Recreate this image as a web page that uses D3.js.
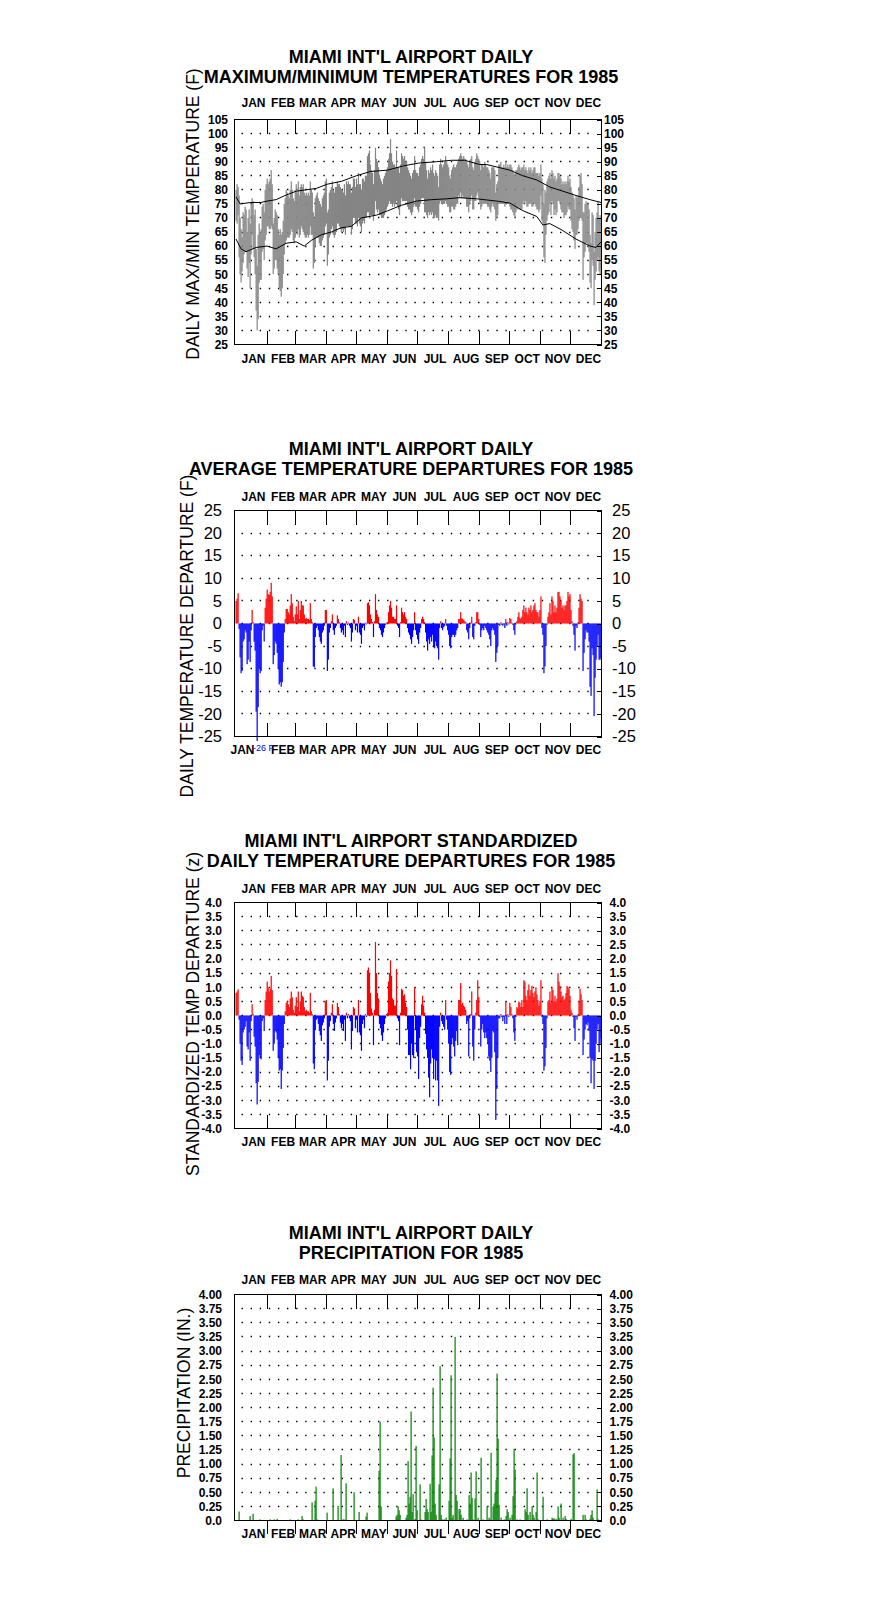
<!DOCTYPE html>
<html><head><meta charset="utf-8">
<script src="https://cdn.jsdelivr.net/npm/d3@7"></script>
<style>body{margin:0;background:#fff;}</style>
</head><body>
<svg id="chart" width="876" height="1606" style="background:#fff"></svg>
<script>
// ---------------- DATA ----------------
const months = ["JAN","FEB","MAR","APR","MAY","JUN","JUL","AUG","SEP","OCT","NOV","DEC"];
const monthStarts = [0,31,59,90,120,151,181,212,243,273,304,334];
const monthLengths = [31,28,31,30,31,30,31,31,30,31,30,31];

const tempTicks = [105,100,95,90,85,80,75,70,65,60,55,50,45,40,35,30,25];
const depTicks = [25,20,15,10,5,0,-5,-10,-15,-20,-25];
const stdTicks = [4,3.5,3,2.5,2,1.5,1,0.5,0,-0.5,-1,-1.5,-2,-2.5,-3,-3.5,-4];
const precipTicks = [4,3.75,3.5,3.25,3,2.75,2.5,2.25,2,1.75,1.5,1.25,1,0.75,0.5,0.25,0];

// daily maximum temperature (F), Jan 1 .. Dec 31
const tmax = [
80,82,81,78,70,66,63,72,71,74,73,65,70,73,68,75,77,76,71,73,59,53,64,68,65,66,74,75,72,80,82,
84,82,83,84,87,82,68,70,73,72,71,66,64,66,64,65,69,75,77,80,79,78,77,80,83,80,77,76,
80,82,79,83,78,81,82,81,82,79,78,79,78,79,78,83,80,79,72,70,77,78,79,77,76,75,74,77,78,79,83,
84,72,73,79,80,81,83,80,79,81,81,83,82,82,81,80,80,79,82,78,83,82,83,82,82,79,81,84,84,81,
84,82,86,82,82,80,84,84,83,85,85,92,93,94,89,87,86,82,87,95,91,90,88,85,84,83,82,84,85,86,87,
88,91,93,98,93,90,89,89,88,94,88,88,86,89,93,92,91,92,90,90,88,87,86,85,84,86,87,92,87,86,
86,85,88,89,91,92,91,95,90,87,84,87,86,88,87,89,86,85,87,86,85,81,89,91,89,88,89,90,92,90,89,
88,85,84,87,88,89,88,88,89,90,91,92,93,92,91,92,91,91,90,89,88,90,91,92,88,87,90,91,93,92,91,
90,87,89,89,88,90,89,88,88,87,86,84,88,88,88,87,79,82,83,89,89,90,88,88,89,88,90,88,89,88,
89,89,88,87,86,85,87,87,88,89,88,87,88,88,89,87,88,87,86,88,87,88,86,87,88,88,86,86,86,85,86,
89,84,82,75,80,79,83,84,85,86,84,87,86,84,85,83,84,86,86,85,84,82,83,82,83,82,83,85,83,84,
81,79,78,77,73,78,77,78,81,85,86,82,72,72,75,76,75,75,73,64,61,72,71,58,65,70,72,76,70,71,70];

// daily minimum temperature (F)
const tmin = [
69,68,71,56,50,47,51,54,57,58,58,52,49,54,45,57,64,59,56,50,37,30,34,47,48,48,58,59,55,62,64,
67,67,66,66,67,66,50,52,55,55,52,50,45,44,42,45,50,57,61,62,63,63,63,64,66,65,62,61,
63,65,64,66,63,64,67,66,65,64,63,63,64,63,64,67,64,64,52,54,60,63,63,63,61,60,60,62,63,64,67,
68,53,57,63,64,66,67,64,63,64,65,68,68,67,66,65,66,65,66,64,67,67,67,67,67,64,66,70,70,68,
68,67,70,68,67,65,68,69,68,70,70,72,72,70,71,71,71,69,71,76,73,72,73,71,71,70,70,70,71,72,73,
74,75,76,75,75,74,75,74,75,76,74,73,71,74,77,76,76,76,76,76,74,73,73,72,71,72,74,77,74,74,
73,72,74,75,77,77,77,72,72,71,70,72,71,72,71,72,70,70,71,70,70,69,75,76,75,75,75,75,76,75,74,
74,72,72,74,74,73,73,74,75,75,78,77,79,77,78,77,77,77,74,74,72,75,76,78,73,73,76,76,78,79,77,
75,73,74,75,75,75,75,75,74,74,73,72,74,75,74,73,69,70,71,75,75,75,75,75,75,74,76,75,75,75,
74,73,73,72,71,70,72,73,73,74,73,73,73,75,76,75,76,74,74,75,75,75,74,74,75,75,74,73,73,72,73,
78,69,68,56,54,64,69,71,72,75,71,76,75,71,73,71,72,76,76,75,73,72,72,70,71,71,72,74,73,73,
69,66,65,62,59,64,64,66,69,70,70,69,48,56,58,61,61,60,58,47,45,55,53,39,48,51,55,56,51,50,52];

// normal max / min read at sample days
const normMaxDays = [0,4,15,25,31,40,49,60,70,80,91,105,120,134,151,167,182,200,215,228,243,250,273,286,300,313,326,339,353,364];
const normMax     = [77.5,75,75.5,75.5,76,76.5,78,79.5,80,80.5,82,83,85,86.5,87,88.5,89.5,90,90.5,90.5,89,89,87,85,83.5,81,79.5,78,76.5,75.5];
const normMinDays = [0,5,10,20,31,40,50,60,68,75,85,95,105,115,125,140,151,165,180,195,210,223,240,260,273,286,300,306,313,326,339,353,359,364];
const normMin     = [62.5,59,58,59.5,60,59,61,61.5,60,62,64,65,66.5,67,70,71,72.5,74.5,76,76.5,76.8,77.2,76.8,76,75.3,72.6,70.5,67.5,68,65.5,62.5,60,59.5,61.5];

// daily average temperature departure (F)
const departure = [
5,5.5,6.7,-1.2,-7.5,-11,-10.5,-4,-3.5,-1.5,-2,-9,-8,-4,-8.5,-1.5,3,0.3,-4,-6,-19.5,-26,-18.5,-10,-11,-10.5,-1.5,-0.5,-4,3.5,5.5,
7.5,6.5,6.3,7,9,6,-9,-7,-4,-4.5,-6.5,-10,-13.5,-13,-14,-13,-8.5,-2,1,3.2,3.2,2.5,2,4,6.5,4.5,1.5,0.5,
2,3.8,2,5,1,3,5,4,4,2,1,1.2,1,1,0.8,4.5,1,0.3,-9.5,-9.7,-3,-1,-0.5,-1.5,-3,-4,-4.5,-2,-1.5,-0.5,3,
3,-10.5,-8,-2,-1,0.5,2,-1.5,-2.5,-1,-0.5,1.8,1,0.3,-1,-2,-1.5,-2.5,-0.5,-3,0.5,-0.3,0.2,-0.5,-1,-4,-2,1,0.8,-1.5,
-0.5,-2,1.5,-2,-2.5,-4.5,-1,-0.5,-1.5,0.2,-0.2,4.5,4.7,4,2,1,0.3,-3,0.5,6.5,3,2,1.5,-1,-1.5,-2.5,-3,-2,-1,-0.3,0.2,
0.3,2.5,4,5,3.5,1.5,1.5,1,1,4,-0.5,-1,-3,0.3,3.5,2.5,2,2.5,1.5,1,-1,-2,-2.5,-3.5,-4.5,-3,-1.5,2.5,-1.5,-2.5,
-3.5,-4.5,-2,-1,1,1.5,1,0.3,-2,-4,-6,-3.5,-4.5,-3,-4,-2.5,-5,-5.5,-4,-5,-5.5,-8,-1,0.5,-1,-1.5,-0.8,-0.5,1,-0.5,-1.5,
-2.5,-5,-5.5,-3,-2.5,-2.5,-3,-2.5,-1.5,-1,1,1,2.5,1.2,1,0.8,0.5,0.3,-1.5,-2,-3.5,-1,0.2,1.5,-3,-3.5,-0.5,0.3,2.5,2.5,1,
-0.3,-3,-1.5,-1,-1.5,-0.5,-1,-1.5,-2,-2.5,-3.5,-5,-1.5,-1,-1.5,-2.5,-8.5,-6.5,-5,-0.3,-0.5,0.3,-0.3,-0.5,-0.2,-1,1,-0.5,0.3,-0.2,
1.2,1,0.2,-0.3,-1.5,-2.5,-0.2,0.5,1.5,2.5,1.3,1,1.5,3,4,2.5,3.5,2.5,2,3.5,3,4,2.5,3,4,4.5,3,2.5,2.5,1.5,3,
6,-1,-2.5,-11,-9.5,-5,-0.3,1.5,2.5,4.5,2,6,5,2.5,4,2.5,3.5,7,7,6,5,3.5,4,3,4,4,5,7,6,6.5,
3,0.5,-0.5,-2.5,-6,-0.5,-1,0.3,3.5,6.5,5.5,5,-10.5,-6.5,-3.5,-1.5,-2,-2,-4,-14,-16,-5.5,-7,-20.5,-12,-8,-5,-2.5,-8,-8,-7.5];

// standardized daily temperature departure (z)
const stdDeparture = [
0.8,0.85,0.93,-0.15,-1.0,-1.6,-1.75,-0.6,-0.5,-0.4,-0.2,-1.1,-1.2,-0.6,-1.6,-0.2,0.4,0.05,-0.75,-1.1,-2.4,-3.15,-2.35,-1.4,-1.5,-1.55,-0.2,-0.1,-0.55,0.55,0.85,
1.2,1.0,0.85,0.95,1.4,0.9,-1.25,-1.0,-0.55,-0.6,-0.85,-1.5,-1.95,-1.9,-2.6,-1.95,-1.15,-0.3,0.15,0.45,0.5,0.4,0.3,0.6,0.85,0.65,0.2,0.1,
0.35,0.65,0.3,0.85,0.15,0.5,0.85,0.7,0.65,0.3,0.15,0.2,0.15,0.15,0.1,0.8,0.15,0.05,-1.7,-1.9,-0.5,-0.15,-0.1,-0.3,-0.55,-0.7,-0.9,-0.35,-0.25,-0.1,0.5,
0.55,-2.3,-1.6,-0.4,-0.2,0.1,0.4,-0.3,-0.55,-0.25,-0.1,0.45,0.3,0.05,-0.25,-0.45,-0.3,-0.55,-0.15,-0.9,0.1,-0.1,0.05,-0.1,-0.2,-1.2,-0.55,0.3,0.25,-0.45,
-0.15,-0.6,0.55,-0.6,-0.7,-1.25,-0.3,-0.15,-0.45,0.05,-0.05,1.6,1.7,1.5,0.8,0.25,0.1,-1.05,0.2,2.6,1.5,0.8,0.6,-0.3,-0.45,-0.7,-0.9,-0.6,-0.3,-0.1,0.05,
0.1,1.2,1.5,1.95,1.4,0.6,0.55,0.35,0.35,1.65,-0.1,-0.2,-1.05,0.1,0.95,0.9,0.7,0.75,0.45,0.3,-0.5,-1.4,-1.4,-1.9,-1.0,-1.4,-1.5,1.0,-0.5,-1.3,
-1.45,-2.25,-0.8,-0.4,0.4,0.7,0.35,0.1,-0.65,-1.2,-1.5,-2.2,-2.9,-1.7,-1.2,-1.5,-2.25,-1.55,-2.3,-1.6,-2.3,-3.2,-0.4,0.1,-0.2,-0.3,-0.4,-0.5,0.55,-0.15,-0.5,
-1.0,-2.0,-2.1,-1.0,-0.8,-1.1,-1.45,-0.9,-0.55,-1.05,0.55,0.55,1.15,0.4,0.45,0.35,0.3,0.2,-0.3,-0.2,-1.45,-0.1,0.05,0.85,-1.1,-1.6,-0.5,0.1,0.55,1.25,0.65,
-0.05,-1.1,-0.5,-0.3,-0.6,-0.8,-0.6,-0.8,-1.0,-1.45,-1.6,-2.0,-1.5,-0.55,-0.6,-1.3,-3.7,-2.6,-1.5,-0.1,-0.1,0.05,-0.05,-0.2,-0.05,-0.3,0.5,-0.3,0.05,-0.05,
0.45,0.3,0.05,-0.1,-0.6,-0.9,-0.05,0.3,0.25,0.5,0.45,0.3,0.55,0.3,1.25,1.2,0.7,0.55,0.9,1.1,0.7,0.9,1.05,0.8,0.65,0.85,1.0,0.75,0.55,0.35,0.5,
1.25,-0.05,-0.3,-1.95,-1.8,-1.15,-0.1,0.5,0.55,0.85,0.45,1.0,0.9,0.5,0.7,0.5,0.6,1.5,1.2,1.05,0.85,0.65,0.7,0.55,0.6,0.8,1.05,1.0,0.95,0.7,
0.2,0.1,-0.05,-0.45,-0.9,-0.05,-0.15,0.05,0.5,0.95,0.75,0.55,-1.4,-0.85,-0.5,-0.3,-0.35,-0.25,-0.55,-1.5,-2.4,-1.55,-1.6,-2.6,-1.6,-1.0,-0.5,-0.3,-1.3,-1.0,-0.8];

// daily precipitation (in.), days with measurable rain
const precipDays = [3,14,17,24,34,38,41,48,54,62,66,67,76,79,80,81,91,97,102,105,107,108,110,118,123,130,131,143,144,145,
160,161,162,163,164,170,171,172,173,174,175,176,177,179,180,181,183,184,188,189,190,191,193,194,195,196,197,198,199,
202,203,204,205,207,209,212,213,214,215,216,218,219,220,222,223,224,226,230,232,233,234,235,236,238,239,241,244,246,
250,252,253,254,256,257,258,259,260,261,262,264,267,269,270,271,273,275,276,277,278,280,283,288,289,290,291,293,295,
296,297,299,300,301,306,310,315,316,317,319,321,322,324,326,328,329,334,336,337,346,348,349,353,354,355,356,360,361];
const precipAmounts = [0.16,0.08,0.12,0.02,0.02,0.02,0.03,0.01,0.02,0.02,0.08,0.02,0.32,0.35,0.6,0.02,0.14,0.57,0.26,1.16,0.02,0.02,0.66,0.5,0.15,0.07,0.14,0.88,1.75,0.25,
0.07,0.1,0.25,0.18,0.1,0.05,0.1,1.05,0.3,0.42,1.93,0.15,0.47,0.03,1.32,0.18,0.64,0.02,0.15,0.38,0.2,0.15,0.65,0.15,1.15,2.35,1.47,0.3,0.1,
0.64,2.73,0.1,0.02,0.02,0.05,0.35,1.1,2.57,0.05,0.1,3.25,0.45,0.35,0.2,0.2,0.1,0.05,0.02,0.45,0.3,0.85,0.4,0.02,0.39,0.87,0.05,1.11,0.02,
0.25,0.05,0.02,1.2,0.25,0.3,0.5,0.72,2.6,1.45,0.28,0.05,0.02,0.08,0.2,0.15,0.05,0.1,0.43,1.27,0.9,0.02,0.02,0.2,0.15,0.57,0.1,0.15,0.25,
0.1,0.05,0.15,0.85,0.02,0.42,0.02,0.05,0.03,0.04,0.03,0.25,0.05,0.3,0.05,0.08,0.03,0.03,1.17,1.19,0.1,0.1,0.02,0.03,0.1,0.18,0.05,0.55,0.02];

// ---------------- DRAWING ----------------
const FONT = "'Liberation Sans', Arial, Helvetica, sans-serif";
const svg = d3.select("#chart");
const X0 = 234.5, X1 = 601.5;
const x = d3.scaleLinear().domain([0, 365]).range([235.5, 601.5]);
const days = d3.range(365);

function panel(cfg) {
  const g = svg.append("g");
  const y = d3.scaleLinear().domain(cfg.domain).range([cfg.bottom, cfg.top]);

  cfg.title.forEach((t, i) => g.append("text")
    .attr("x", 411).attr("y", cfg.titleY[i]).attr("text-anchor", "middle")
    .style("font", `bold 18px ${FONT}`).text(t));

  g.append("text")
    .attr("transform", `translate(${cfg.ylabX},${cfg.ylabY}) rotate(-90)`)
    .attr("text-anchor", "middle").style("font", `17.5px ${FONT}`).text(cfg.ylabel);

  const mlab = (yy, i, dx) => g.append("text")
    .attr("x", x(monthStarts[i] + monthLengths[i] / 2) + 2.5 + (dx || 0)).attr("y", yy)
    .attr("text-anchor", "middle").style("font", `bold 12px ${FONT}`).text(months[i]);
  months.forEach((m, i) => mlab(cfg.monthTopY, i));
  months.forEach((m, i) => mlab(cfg.monthBotY, i, (i === 0 ? cfg.janShift || 0 : 0)));

  // dotted grid rows
  const inner = cfg.ticks.filter(v => v !== cfg.domain[0] && v !== cfg.domain[1]);
  g.append("g").selectAll("line").data(inner).join("line")
    .attr("x1", X0 + 7).attr("x2", X1 - 5)
    .attr("y1", d => Math.round(y(d) - 0.5) + 0.5).attr("y2", d => Math.round(y(d) - 0.5) + 0.5)
    .attr("stroke", "#000").attr("stroke-width", 1.3).attr("stroke-dasharray", "1.4 7.7");

  cfg.marks(g, y);

  // frame
  g.append("rect").attr("x", X0).attr("y", cfg.top).attr("width", X1 - X0).attr("height", cfg.bottom - cfg.top)
    .attr("fill", "none").attr("stroke", "#000").attr("stroke-width", 1);

  // month boundary ticks
  const bounds = monthStarts.slice(1);
  const top = g.append("g").attr("transform", `translate(0,${cfg.top})`)
    .call(d3.axisTop(x).tickValues(bounds).tickFormat("").tickSize(-14));
  top.select(".domain").remove();
  const bot = g.append("g").attr("transform", `translate(0,${cfg.bottom})`)
    .call(d3.axisBottom(x).tickValues(bounds).tickFormat("").tickSize(cfg.botTick));
  bot.select(".domain").remove();
  g.selectAll(".tick line").attr("stroke", "#000").attr("shape-rendering", "crispEdges");

  // y axes
  const la = g.append("g").attr("transform", `translate(${X0},0)`)
    .call(d3.axisLeft(y).tickValues(cfg.ticks).tickFormat(cfg.fmt).tickSize(0).tickPadding(cfg.padL));
  la.select(".domain").remove();
  const ra = g.append("g").attr("transform", `translate(${X1},0)`)
    .call(d3.axisRight(y).tickValues(cfg.ticks).tickFormat(cfg.fmt).tickSize(-5).tickPadding(cfg.padR));
  ra.select(".domain").remove();
  ra.selectAll("line").attr("stroke", "#000").attr("shape-rendering", "crispEdges");
  [la, ra].forEach(a => a.selectAll("text").attr("fill", "#000")
    .style("font", `${cfg.tickWeight} ${cfg.tickSize}px ${FONT}`));
  return { g, y };
}

// Panel 1: max/min
panel({
  title: ["MIAMI INT'L AIRPORT DAILY", "MAXIMUM/MINIMUM TEMPERATURES FOR 1985"],
  titleY: [63, 83], ylabel: "DAILY MAX/MIN TEMPERATURE (F)", ylabX: 199, ylabY: 214,
  monthTopY: 106.5, monthBotY: 362.5, top: 119.5, bottom: 344.5, domain: [25, 105],
  ticks: tempTicks, fmt: d => String(d), padL: 6.5, padR: 2.5, tickSize: 12, tickWeight: "bold", botTick: -14,
  marks: (g, y) => {
    g.append("g").selectAll("rect").data(days).join("rect")
      .attr("x", d => x(d)).attr("width", d => x(d + 1) - x(d) + 0.2)
      .attr("y", d => y(tmax[d])).attr("height", d => y(tmin[d]) - y(tmax[d]))
      .attr("fill", "#858585");
    const line = d3.line().x(d => x(d[0] + 0.5)).y(d => y(d[1]));
    g.append("path").attr("d", line(normMaxDays.map((d, i) => [d, normMax[i]])))
      .attr("fill", "none").attr("stroke", "#000").attr("stroke-width", 1);
    g.append("path").attr("d", line(normMinDays.map((d, i) => [d, normMin[i]])))
      .attr("fill", "none").attr("stroke", "#000").attr("stroke-width", 1);
  }
});

// Panel 2: departures
const p2 = panel({
  title: ["MIAMI INT'L AIRPORT DAILY", "AVERAGE TEMPERATURE DEPARTURES FOR 1985"],
  titleY: [455, 475], ylabel: "DAILY TEMPERATURE DEPARTURE (F)", ylabX: 193, ylabY: 636,
  monthTopY: 500.5, monthBotY: 753.5, janShift: -11, top: 510.5, bottom: 736.5, domain: [-25, 25],
  ticks: depTicks, fmt: d => String(d), padL: 12.5, padR: 10.5, tickSize: 16.5, tickWeight: "normal", botTick: -14,
  marks: (g, y) => {
    g.append("g").selectAll("rect").data(days.filter(d => departure[d] !== 0)).join("rect")
      .attr("x", d => x(d)).attr("width", d => x(d + 1) - x(d) + 0.2)
      .attr("y", d => Math.min(y(departure[d]), y(0))).attr("height", d => Math.abs(y(departure[d]) - y(0)))
      .attr("fill", d => departure[d] > 0 ? "#ff0000" : "#0000ff");
  }
});
p2.g.append("text").attr("x", 253).attr("y", 750.5).attr("fill", "#0000ff")
  .style("font", `9px ${FONT}`).text("-26 F");

// Panel 3: standardized
panel({
  title: ["MIAMI INT'L AIRPORT STANDARDIZED", "DAILY TEMPERATURE DEPARTURES FOR 1985"],
  titleY: [846.5, 867], ylabel: "STANDARDIZED TEMP DEPARTURE (z)", ylabX: 198.5, ylabY: 1014,
  monthTopY: 892.5, monthBotY: 1145.5, top: 902.5, bottom: 1128.5, domain: [-4, 4],
  ticks: stdTicks, fmt: d => d.toFixed(1), padL: 12.5, padR: 8, tickSize: 12, tickWeight: "bold", botTick: -14,
  marks: (g, y) => {
    g.append("g").selectAll("rect").data(days.filter(d => stdDeparture[d] !== 0)).join("rect")
      .attr("x", d => x(d)).attr("width", d => x(d + 1) - x(d) + 0.2)
      .attr("y", d => Math.min(y(stdDeparture[d]), y(0))).attr("height", d => Math.abs(y(stdDeparture[d]) - y(0)))
      .attr("fill", d => stdDeparture[d] > 0 ? "#ff0000" : "#0000ff");
  }
});

// Panel 4: precipitation
panel({
  title: ["MIAMI INT'L AIRPORT DAILY", "PRECIPITATION FOR 1985"],
  titleY: [1239, 1258.5], ylabel: "PRECIPITATION (IN.)", ylabX: 189.5, ylabY: 1393,
  monthTopY: 1283.5, monthBotY: 1537.5, top: 1294.5, bottom: 1520.5, domain: [0, 4],
  ticks: precipTicks, fmt: d => d === 0 ? "0.0" : d.toFixed(2), padL: 12.5, padR: 8, tickSize: 12, tickWeight: "bold", botTick: 13,
  marks: (g, y) => {
    g.append("g").selectAll("rect").data(precipDays).join("rect")
      .attr("x", (d, i) => Math.round(x(d + 0.5)) - 0.5).attr("width", 1.2)
      .attr("y", (d, i) => y(precipAmounts[i])).attr("height", (d, i) => y(0) - y(precipAmounts[i]))
      .attr("fill", "#008000");
  }
});
</script>
</body></html>
